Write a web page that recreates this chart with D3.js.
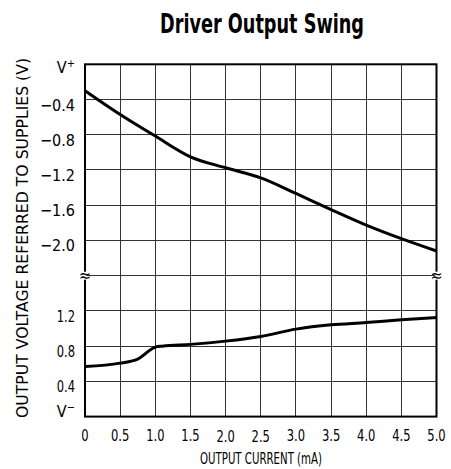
<!DOCTYPE html>
<html>
<head>
<meta charset="utf-8">
<script src="https://cdn.jsdelivr.net/npm/d3@7"></script>
<style>
  html, body { margin: 0; padding: 0; background: #fff; }
  svg { display: block; }
  text { font-family: "DejaVu Sans Condensed", "Liberation Sans", sans-serif; fill: #000; }
</style>
</head>
<body>
<svg id="chart" width="451" height="469"></svg>
<script>
// ---- data ----
const xTicks = [0, 0.5, 1.0, 1.5, 2.0, 2.5, 3.0, 3.5, 4.0, 4.5, 5.0];
const xTickLabels = ["0", "0.5", "1.0", "1.5", "2.0", "2.5", "3.0", "3.5", "4.0", "4.5", "5.0"];

// upper section: referred to V+ ; lower section: referred to V-
const upperTicks = [0, -0.4, -0.8, -1.2, -1.6, -2.0];
const upperTickLabels = ["V", "\u22120.4", "\u22120.8", "\u22121.2", "\u22121.6", "\u22122.0"];
const lowerTicks = [1.2, 0.8, 0.4, 0];
const lowerTickLabels = ["1.2", "0.8", "0.4", "V"];

// Output high swing (referred to V+)
const highCurrent = [0, 0.5, 1.0, 1.5, 2.0, 2.5, 3.0, 3.5, 4.0, 4.5, 5.0];
const highVoltage = [-0.30, -0.57, -0.815, -1.05, -1.175, -1.29, -1.466, -1.65, -1.826, -1.98, -2.12];

// Output low swing (referred to V-)
const lowCurrent = [0, 0.5, 0.75, 1.0, 1.1, 1.5, 2.0, 2.5, 3.0, 3.5, 4.0, 4.5, 5.0];
const lowVoltage = [0.568, 0.607, 0.652, 0.789, 0.80, 0.82, 0.857, 0.91, 0.993, 1.042, 1.068, 1.10, 1.125];

// ---- layout ----
const svg = d3.select("#chart");
const pL = 85, pR = 436.5, pT = 64.3, pB = 416.6;
const rowH = (pB - pT) / 10;
const breakY = pT + 6 * rowH;

const x = d3.scaleLinear().domain([0, 5]).range([pL, pR]);
const yUp = d3.scaleLinear().domain([0, -2.4]).range([pT, breakY]);
const yLo = d3.scaleLinear().domain([0, 1.6]).range([pB, breakY]);

// place a text at (px,py) and squeeze it horizontally by factor f or to width w
function placeScaled(sel, px, py, f, w) {
  sel.each(function(d, i) {
    const t = d3.select(this);
    const len = this.getComputedTextLength();
    const s = w ? w(d, i) / len : f;
    t.attr("x", 0).attr("y", 0)
     .attr("transform", `translate(${px(d, i)},${py(d, i)}) scale(${s},1)`);
  });
}

// title
svg.append("text")
  .attr("x", 262).attr("y", 33)
  .attr("text-anchor", "middle")
  .style("font-size", "26px").style("font-weight", "bold")
  .attr("textLength", 204).attr("lengthAdjust", "spacingAndGlyphs")
  .text("Driver Output Swing");

// grid
const grid = svg.append("g").attr("stroke", "#333").attr("stroke-width", 1).attr("shape-rendering", "crispEdges");
grid.selectAll("line.v").data(xTicks.slice(1, -1)).join("line").attr("class", "v")
  .attr("x1", d => x(d)).attr("x2", d => x(d)).attr("y1", pT).attr("y2", pB);
grid.selectAll("line.hu").data(upperTicks.slice(1).concat([-2.4])).join("line").attr("class", "hu")
  .attr("x1", pL).attr("x2", pR).attr("y1", d => yUp(d)).attr("y2", d => yUp(d));
grid.selectAll("line.hl").data(lowerTicks.slice(0, -1)).join("line").attr("class", "hl")
  .attr("x1", pL).attr("x2", pR).attr("y1", d => yLo(d)).attr("y2", d => yLo(d));

// border
svg.append("rect").attr("x", pL).attr("y", pT).attr("width", pR - pL).attr("height", pB - pT)
  .attr("fill", "none").attr("stroke", "#000").attr("stroke-width", 2);

// curves
const lineUp = d3.line().x((d, i) => x(highCurrent[i])).y(d => yUp(d)).curve(d3.curveMonotoneX);
const lineLo = d3.line().x((d, i) => x(lowCurrent[i])).y(d => yLo(d)).curve(d3.curveMonotoneX);
svg.append("path").attr("d", lineUp(highVoltage)).attr("fill", "none").attr("stroke", "#000").attr("stroke-width", 3);
svg.append("path").attr("d", lineLo(lowVoltage)).attr("fill", "none").attr("stroke", "#000").attr("stroke-width", 3);

// break marks
[pL, pR].forEach(bx => {
  svg.append("rect").attr("x", bx - 1.5).attr("y", breakY - 4).attr("width", 3).attr("height", 8).attr("fill", "#fff");
  svg.append("text").attr("x", bx).attr("y", breakY + 5)
    .attr("text-anchor", "middle").style("font-size", "16px").text("\u2248");
});

// x tick labels
const xLab = svg.append("g").selectAll("text").data(xTicks).join("text")
  .attr("text-anchor", "middle").style("font-size", "16px")
  .text((d, i) => xTickLabels[i]);
placeScaled(xLab, d => x(d), (d, i) => (i === 4 || i === 5) ? 442 : 440.5, 0.8);

// y tick labels - upper
const upLab = svg.append("g").selectAll("text").data(upperTicks).join("text")
  .attr("text-anchor", "end").style("font-size", "16px")
  .text((d, i) => upperTickLabels[i]);
placeScaled(upLab.filter((d, i) => i > 0), () => 75, d => yUp(d) + 11, null, () => 35);
upLab.filter((d, i) => i === 0).attr("x", 75).attr("y", yUp(upperTicks[0]) + 9)
  .append("tspan").attr("dy", -6).style("font-size", "11px").text("+");

// y tick labels - lower
const loLab = svg.append("g").selectAll("text").data(lowerTicks).join("text")
  .attr("text-anchor", "end").style("font-size", "16px")
  .text((d, i) => lowerTickLabels[i]);
placeScaled(loLab.filter((d, i) => i < 3), () => 75, d => yLo(d) + 11, 0.8);
loLab.filter((d, i) => i === 3).attr("x", 75).attr("y", yLo(lowerTicks[3]))
  .append("tspan").attr("dy", -6).style("font-size", "11px").text("\u2212");

// axis titles
svg.append("text")
  .attr("x", 261).attr("y", 464)
  .attr("text-anchor", "middle").style("font-size", "16px")
  .attr("textLength", 122).attr("lengthAdjust", "spacingAndGlyphs")
  .text("OUTPUT CURRENT (mA)");
svg.append("text")
  .attr("transform", "translate(28,238) rotate(-90)")
  .attr("text-anchor", "middle").style("font-size", "16px")
  .attr("textLength", 360).attr("lengthAdjust", "spacingAndGlyphs")
  .text("OUTPUT VOLTAGE REFERRED TO SUPPLIES (V)");
</script>
</body>
</html>
